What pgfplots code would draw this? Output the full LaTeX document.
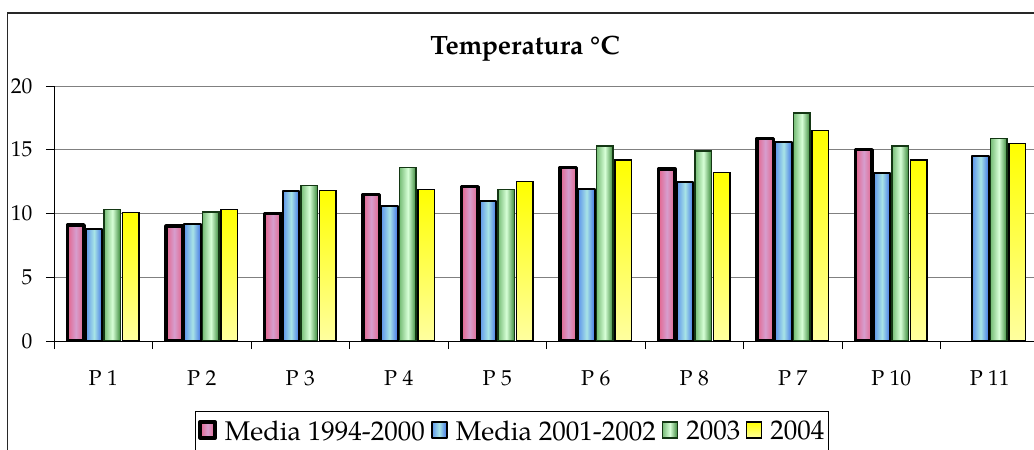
\documentclass[border=0pt]{standalone}
\usepackage{fontspec}
\setmainfont{TeX Gyre Pagella}
\usepackage{pgfplots}
\pgfplotsset{compat=1.18}
\definecolor{framec}{RGB}{40,40,40}
\definecolor{gridc}{RGB}{128,128,128}
\definecolor{pinkE}{RGB}{228,100,140}
\definecolor{pinkM}{RGB}{214,158,206}
\definecolor{blueL}{RGB}{95,150,235}
\definecolor{blueM}{RGB}{168,228,230}
\definecolor{blueR}{RGB}{65,115,230}
\definecolor{greenL}{RGB}{120,190,120}
\definecolor{greenM}{RGB}{215,255,215}
\definecolor{greenR}{RGB}{55,135,55}
\definecolor{greenB}{RGB}{20,55,20}
\definecolor{yelT}{RGB}{255,255,0}
\definecolor{yelB}{RGB}{255,255,160}

\pgfplotsset{
  stA/.style={draw=black, line width=3.5pt, line join=round, left color=pinkE, right color=pinkE, middle color=pinkM},
  stB/.style={draw=black, line width=2pt, line join=round, left color=blueL, right color=blueR, middle color=blueM},
  stC/.style={draw=greenB, line width=1.5pt, left color=greenL, right color=greenR, middle color=greenM},
  stD/.style={draw=black, line width=1.2pt, top color=yelT, bottom color=yelB},
  bA/.style={stA, bar shift=-27.45pt, forget plot},
  bB/.style={stB, bar shift=-9.15pt, forget plot},
  bC/.style={stC, bar shift=9.15pt, forget plot},
  bD/.style={stD, bar shift=27.45pt, forget plot},
}

\begin{document}
\begin{tikzpicture}
\path[use as bounding box] (0pt,0pt) rectangle (1034pt,450pt);
\clip (0pt,0pt) rectangle (1034pt,450pt);
\draw[line width=1.5pt, color=framec] (7.5pt,-100pt) rectangle (1200pt,437pt);
\begin{axis}[
  at={(54pt,109pt)}, anchor=south west,
  scale only axis, width=985pt, height=255pt,
  xmin=-0.5, xmax=9.5, ymin=0, ymax=20,
  ybar, bar width=16.5pt,
  axis lines=left,
  axis line style={-, black, line width=0.8pt},
  tick align=outside,
  major tick length=8pt,
  tick style={black, line width=0.8pt},
  ytick={0,5,10,15,20},
  ymajorgrids,
  grid style={gridc, line width=0.8pt},
  xtick={-0.5,0.5,...,9.5},
  xticklabels={},
  extra x ticks={0,1,2,3,4,5,6,7,8,9},
  extra x tick labels={P 1,P 2,P 3,P 4,P 5,P 6,P 8,P 7,P 10,P 11},
  extra x tick style={major tick length=0pt},
  xticklabel style={yshift=-26pt},
  yticklabel style={xshift=-10pt},
  /pgf/number format/assume math mode=true,
  tick label style={font=\fontsize{21.5}{24}\selectfont},
  title={Temperatura °C},
  title style={font=\fontsize{26.5}{30}\selectfont\bfseries, at={(axis description cs:0.4782,1)}, anchor=base, yshift=25pt},
  legend columns=4,
  legend style={at={(axis description cs:0.1431,-0.2745)}, anchor=north west,
    draw=black, line width=0.8pt, font=\fontsize{27}{30}\selectfont,
    inner ysep=7pt, inner xsep=3pt,
    /tikz/every even column/.append style={column sep=5pt},
    /tikz/every odd column/.append style={column sep=7pt},
    nodes={inner xsep=1pt, inner ysep=2pt}},
  legend image code/.code={\draw[#1] (0pt,-7pt) rectangle (15pt,9pt);},
]
% Media 1994-2000
\addplot[bA] coordinates {(0,9.1)};
\addplot[bA] coordinates {(1,9.0)};
\addplot[bA] coordinates {(2,10.0)};
\addplot[bA] coordinates {(3,11.5)};
\addplot[bA] coordinates {(4,12.1)};
\addplot[bA] coordinates {(5,13.6)};
\addplot[bA] coordinates {(6,13.5)};
\addplot[bA] coordinates {(7,15.9)};
\addplot[bA] coordinates {(8,15.0)};
% Media 2001-2002
\addplot[bB] coordinates {(0,8.8)};
\addplot[bB] coordinates {(1,9.2)};
\addplot[bB] coordinates {(2,11.8)};
\addplot[bB] coordinates {(3,10.6)};
\addplot[bB] coordinates {(4,11.0)};
\addplot[bB] coordinates {(5,11.9)};
\addplot[bB] coordinates {(6,12.5)};
\addplot[bB] coordinates {(7,15.6)};
\addplot[bB] coordinates {(8,13.2)};
\addplot[bB] coordinates {(9,14.5)};
% 2003
\addplot[bC] coordinates {(0,10.3)};
\addplot[bC] coordinates {(1,10.1)};
\addplot[bC] coordinates {(2,12.2)};
\addplot[bC] coordinates {(3,13.6)};
\addplot[bC] coordinates {(4,11.9)};
\addplot[bC] coordinates {(5,15.3)};
\addplot[bC] coordinates {(6,14.9)};
\addplot[bC] coordinates {(7,17.9)};
\addplot[bC] coordinates {(8,15.3)};
\addplot[bC] coordinates {(9,15.9)};
% 2004
\addplot[bD] coordinates {(0,10.1)};
\addplot[bD] coordinates {(1,10.3)};
\addplot[bD] coordinates {(2,11.8)};
\addplot[bD] coordinates {(3,11.9)};
\addplot[bD] coordinates {(4,12.5)};
\addplot[bD] coordinates {(5,14.2)};
\addplot[bD] coordinates {(6,13.2)};
\addplot[bD] coordinates {(7,16.5)};
\addplot[bD] coordinates {(8,14.2)};
\addplot[bD] coordinates {(9,15.5)};
\addlegendimage{stA}\addlegendentry{Media 1994-2000}
\addlegendimage{stB}\addlegendentry{Media 2001-2002}
\addlegendimage{stC}\addlegendentry{2003}
\addlegendimage{stD}\addlegendentry{2004}
\end{axis}
\end{tikzpicture}
\end{document}
